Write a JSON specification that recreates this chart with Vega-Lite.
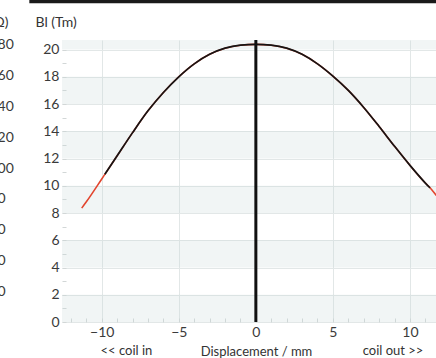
{
  "$schema": "https://vega.github.io/schema/vega-lite/v6.json",
  "width": 374,
  "height": 282,
  "autosize": {"type": "none"},
  "padding": {"left": 62, "top": 40, "right": 0, "bottom": 36},
  "background": "white",
  "config": {
    "view": {"stroke": null},
    "font": "Lato",
    "axis": {"labelFont": "Lato", "titleFont": "Lato", "labelColor": "#3a3a3a", "titleColor": "#333333", "titleFontWeight": "normal", "labelFontSize": 13, "titleFontSize": 13, "labelOverlap": false}
  },
  "datasets": {
    "bands": [
      {"lo": 0, "hi": 2}, {"lo": 4, "hi": 6}, {"lo": 8, "hi": 10},
      {"lo": 12, "hi": 14}, {"lo": 16, "hi": 18}, {"lo": 20, "hi": 20.7}
    ],
    "curve": [
      {"x": -11.3, "bl": 8.36}, {"x": -11, "bl": 8.82}, {"x": -10, "bl": 10.5},
      {"x": -9.8, "bl": 10.84}, {"x": -9, "bl": 12.2}, {"x": -8, "bl": 13.9},
      {"x": -7, "bl": 15.5}, {"x": -6, "bl": 16.85}, {"x": -5, "bl": 18.0},
      {"x": -4, "bl": 18.95}, {"x": -3, "bl": 19.65}, {"x": -2, "bl": 20.1},
      {"x": -1, "bl": 20.32}, {"x": 0, "bl": 20.38}, {"x": 1, "bl": 20.32},
      {"x": 2, "bl": 20.1}, {"x": 3, "bl": 19.65}, {"x": 4, "bl": 18.95},
      {"x": 5, "bl": 18.05}, {"x": 6, "bl": 17.0}, {"x": 7, "bl": 15.75},
      {"x": 8, "bl": 14.35}, {"x": 9, "bl": 12.9}, {"x": 10, "bl": 11.5},
      {"x": 11, "bl": 10.2}, {"x": 11.3, "bl": 9.85}, {"x": 11.7, "bl": 9.3},
      {"x": 12, "bl": 8.9}
    ],
    "notes": [
      {"x": -8.4, "t": "<< coil in"},
      {"x": 8.9, "t": "coil out >>"}
    ],
    "other": [{"v": 0}, {"v": 180}],
    "one": [{"id": 1}]
  },
  "layer": [
    {
      "layer": [
        {
          "data": {"name": "bands"},
          "mark": {"type": "rect", "color": "#c9d6d6", "opacity": 0.25},
          "encoding": {
            "y": {
              "field": "lo", "type": "quantitative",
              "scale": {"domain": [0, 20.7], "nice": false, "zero": false},
              "axis": {
                "title": "Bl (Tm)",
                "titleAngle": 0, "titleAlign": "left", "titleBaseline": "middle",
                "titleX": -27, "titleY": -18, "titleFontSize": 14,
                "values": [0,0.5,1,1.5,2,2.5,3,3.5,4,4.5,5,5.5,6,6.5,7,7.5,8,8.5,9,9.5,10,10.5,11,11.5,12,12.5,13,13.5,14,14.5,15,15.5,16,16.5,17,17.5,18,18.5,19,19.5,20,20.5],
                "tickCount": 200,
                "format": "d",
                "labelExpr": "datum.value % 2 == 0 ? datum.label : ''",
                "labelOverlap": false,
                "labelFontSize": 14,
                "domain": false,
                "tickSize": -4, "tickColor": "#d2d7d7", "labelPadding": 7,
                "grid": true, "gridColor": "#e2e7e7",
                "gridOpacity": {"condition": {"test": "datum.value % 2 == 0", "value": 1}, "value": 0}
              }
            },
            "y2": {"field": "hi"}
          }
        },
        {
          "data": {"name": "curve"},
          "mark": {"type": "line", "color": "#e2452e", "strokeWidth": 1.6, "interpolate": "monotone", "clip": true},
          "encoding": {
            "x": {
              "field": "x", "type": "quantitative",
              "scale": {"domain": [-12.58, 11.69], "nice": false, "zero": false},
              "axis": {
                "title": "Displacement / mm",
                "titleX": 194, "titleY": 29, "titleAlign": "center", "titleBaseline": "middle",
                "values": [-12,-11,-10,-9,-8,-7,-6,-5,-4,-3,-2,-1,0,1,2,3,4,5,6,7,8,9,10,11],
                "tickCount": 200,
                "format": "d",
                "labelExpr": "datum.value % 5 == 0 ? datum.label : ''",
                "labelOverlap": false,
                "labelFontSize": 14,
                "domain": false,
                "tickSize": -4, "tickColor": "#d2d7d7", "labelPadding": 7,
                "grid": true, "gridColor": "#e2e7e7",
                "gridOpacity": {"condition": {"test": "datum.value % 5 == 0", "value": 1}, "value": 0}
              }
            },
            "y": {"field": "bl", "type": "quantitative"}
          }
        },
        {
          "data": {"name": "curve"},
          "transform": [{"filter": "datum.x >= -9.8 && datum.x <= 11.3"}],
          "mark": {"type": "line", "color": "#151515", "strokeWidth": 1.7, "interpolate": "monotone", "clip": true},
          "encoding": {
            "x": {"field": "x", "type": "quantitative"},
            "y": {"field": "bl", "type": "quantitative"}
          }
        },
        {
          "data": {"name": "one"},
          "mark": {"type": "rule", "color": "#111111", "strokeWidth": 3},
          "encoding": {"x": {"datum": 0}}
        },
        {
          "data": {"name": "notes"},
          "mark": {"type": "text", "fontSize": 13, "font": "Lato", "color": "#333333", "dy": 29, "baseline": "middle"},
          "encoding": {
            "x": {"field": "x", "type": "quantitative"},
            "y": {"datum": 0},
            "text": {"field": "t"}
          }
        },
        {
          "data": {"name": "one"},
          "mark": {"type": "rect", "color": "#1a1a1a"},
          "encoding": {
            "x": {"datum": -14.7},
            "x2": {"datum": 12.5},
            "y": {"datum": 23.75},
            "y2": {"datum": 23.4}
          }
        }
      ]
    },
    {
      "data": {"name": "other"},
      "mark": {"type": "point", "opacity": 0},
      "encoding": {
        "y": {
          "field": "v", "type": "quantitative",
          "scale": {"domain": [0, 183.2], "nice": false, "zero": false},
          "axis": {
            "orient": "left", "offset": 73,
            "values": [20, 40, 60, 80, 100, 120, 140, 160, 180],
            "tickCount": 200,
            "labelOverlap": false,
            "ticks": false, "domain": false, "grid": false, "labelPadding": 0,
            "labelAlign": "left",
            "labelFontSize": 14,
            "title": "Z (Ω)", "titleAngle": 0, "titleAlign": "right", "titleBaseline": "middle",
            "titleX": 19, "titleY": -18, "titleFontSize": 14
          }
        }
      }
    }
  ],
  "resolve": {"scale": {"y": "independent"}, "axis": {"y": "independent"}}
}
